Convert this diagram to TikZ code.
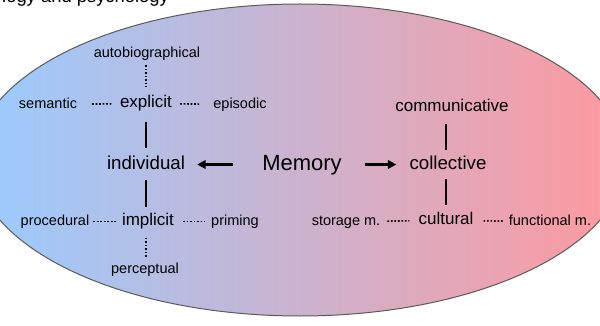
\documentclass[tikz,border=0pt]{standalone}
\usepackage{fontspec}
\setmainfont{Liberation Sans}
\usetikzlibrary{arrows.meta}
\definecolor{lblue}{RGB}{153,204,255}
\definecolor{lpink}{RGB}{255,153,158}
\definecolor{edge}{RGB}{90,90,90}
\tikzset{
  small/.style={inner sep=0pt, font=\fontsize{14.5}{17}\selectfont, text height=10.4pt, text depth=3pt},
  mid/.style={inner sep=0pt, font=\fontsize{17}{20}\selectfont, text height=12.2pt, text depth=3.6pt},
  big/.style={inner sep=0pt, font=\fontsize{18.7}{22}\selectfont, text height=13.4pt, text depth=3.9pt},
  huge/.style={inner sep=0pt, font=\fontsize{22}{26}\selectfont, text height=15.8pt, text depth=4.6pt},
  dotline/.style={line width=1.6pt, dash pattern=on 1.6pt off 1.9pt, black},
  solidline/.style={line width=2pt, black},
  arrowline/.style={line width=2.5pt, black, -{Triangle[length=8.5pt,width=8.5pt]}},
  edgetext/.style={inner sep=0pt, font=\fontsize{18.4}{22}\selectfont}
}
\begin{document}
\begin{tikzpicture}[x=1pt,y=-1pt]
\useasboundingbox (0,0) rectangle (600,326);
\shade[left color=lblue, right color=lpink, draw=edge, line width=1pt] (300,160) ellipse [x radius=325, y radius=156];

\node[edgetext, anchor=base west] (top) at (2,2.5) {logy and psychology};
\node[edgetext, anchor=base west] (bottom) at (385,342) {social and cultural studies};

% left column
\node[small] (autobio) at (147,53.5) {autobiographical};
\node[mid] (explicit) at (146,103.5) {explicit};
\node[small] (semantic) at (48,104.5) {semantic};
\node[small] (episodic) at (240,104.5) {episodic};
\node[big] (individual) at (146,164.5) {individual};
\node[mid] (implicit) at (148,221.5) {implicit};
\node[small] (procedural) at (55,221.5) {procedural};
\node[small] (priming) at (235,221.5) {priming};
\node[small] (perceptual) at (145,269.5) {perceptual};

% centre
\node[huge] (memory) at (302,164.5) {Memory};

% right column
\node[mid] (communicative) at (452,107.5) {communicative};
\node[big] (collective) at (448,164.5) {collective};
\node[mid] (cultural) at (446,220.5) {cultural};
\node[small] (storage) at (346,221.5) {storage m.};
\node[small] (functional) at (550,221.5) {functional m.};

% left connectors
\draw[dotline, shorten <=15pt, shorten >=7pt] (semantic) -- (explicit);
\draw[dotline, shorten <=8pt, shorten >=14pt] (explicit) -- (episodic);
\draw[dotline, shorten <=5pt, shorten >=8pt] (explicit.north |- autobio.south) -- (explicit.north);
\draw[solidline, shorten <=10pt, shorten >=8pt] (explicit.south) -- (explicit.south |- individual.north);
\draw[solidline, shorten <=7pt, shorten >=6pt] (explicit.south |- individual.south) -- (explicit.south |- implicit.north);
\draw[dotline, shorten <=8pt, shorten >=5pt] (explicit.south |- implicit.south) -- (explicit.south |- perceptual.north);
\draw[dotline, shorten <=4pt, shorten >=6pt] (procedural) -- (implicit);
\draw[dotline, shorten <=9pt, shorten >=6pt] (implicit) -- (priming);

% arrows
\draw[arrowline, shorten <=29pt, shorten >=12pt] (memory) -- (individual);
\draw[arrowline, shorten <=23pt, shorten >=13pt] (memory) -- (collective);

% right connectors
\draw[solidline, shorten <=8pt, shorten >=6pt] (cultural.north |- communicative.south) -- (cultural.north |- collective.north);
\draw[solidline, shorten <=6pt, shorten >=7pt] (cultural.north |- collective.south) -- (cultural.north);
\draw[dotline, shorten <=7pt, shorten >=9pt] (storage) -- (cultural);
\draw[dotline, shorten <=10pt, shorten >=6pt] (cultural) -- (functional);
\end{tikzpicture}
\end{document}
